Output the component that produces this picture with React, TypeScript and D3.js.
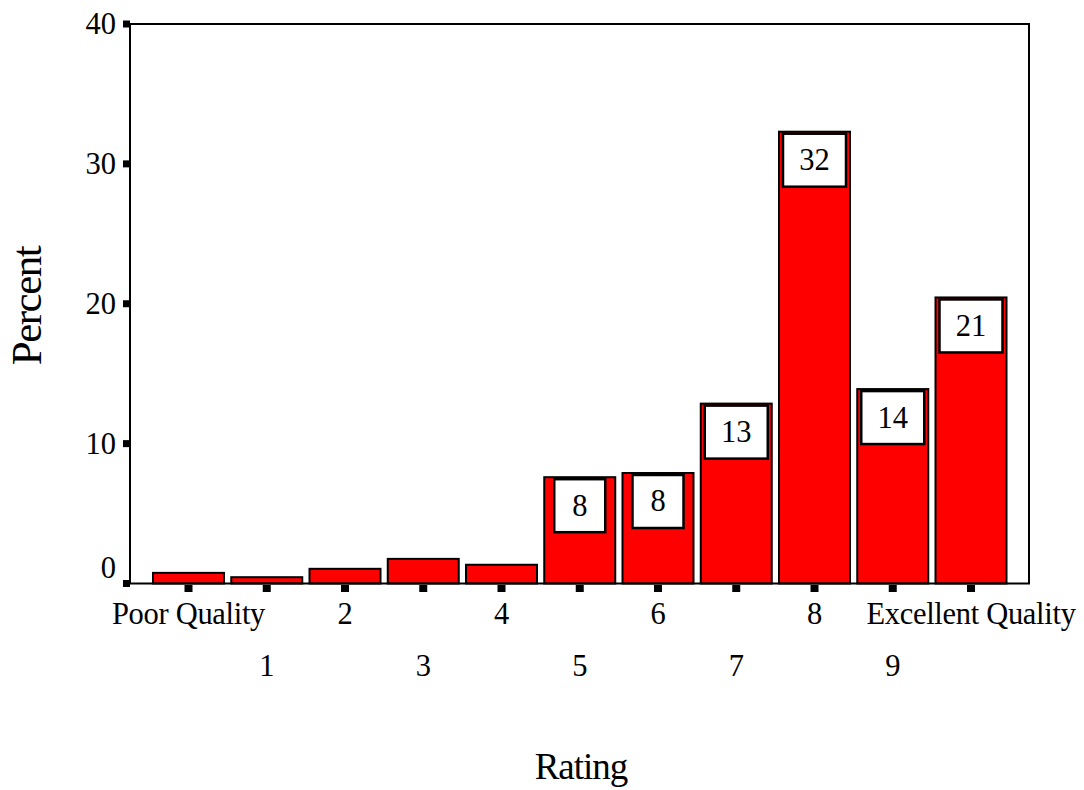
import React from "react";
import * as d3 from "d3";

const categories = ["Poor Quality", "1", "2", "3", "4", "5", "6", "7", "8", "9", "Excellent Quality"];
const percents = [0.76, 0.45, 1.05, 1.76, 1.34, 7.6, 7.9, 12.86, 32.3, 13.9, 20.45];
const valueLabels = ["", "", "", "", "", "8", "8", "13", "32", "14", "21"];
const yTicks = [0, 10, 20, 30, 40];

const W = 1084;
const H = 790;
const FONT = "'Liberation Serif', 'Times New Roman', serif";

export default function App() {
  const left = 130, right = 1029, top = 24, bottom = 583.5;
  const x = d3.scalePoint<string>().domain(categories).range([188.5, 971]);
  const y = d3.scaleLinear().domain([0, 40]).range([bottom, top]);
  const bw = 71;

  return (
    <svg width={W} height={H} style={{ position: "absolute", left: 0, top: 0, background: "#fff" }}>
      {/* bars */}
      {categories.map((c, i) => {
        const cx = x(c)!;
        const yt = y(percents[i]);
        return (
          <rect key={"b" + i} x={cx - bw / 2} y={yt} width={bw} height={bottom - yt}
            fill="#ff0000" stroke="#000" strokeWidth={2} />
        );
      })}
      {/* value label boxes */}
      {categories.map((c, i) => {
        const lab = valueLabels[i];
        if (!lab) return null;
        const cx = x(c)!;
        const yt = y(percents[i]);
        const bwid = lab.length > 1 ? 63 : 51;
        const bh = 53;
        return (
          <g key={"l" + i}>
            <rect x={cx - bwid / 2} y={yt + 2} width={bwid} height={bh} fill="#fff" stroke="#000" strokeWidth={2.5} />
            <text x={cx} y={yt + 2 + bh / 2 + 10} textAnchor="middle" fontFamily={FONT} fontSize={30.5} fill="#000">{lab}</text>
          </g>
        );
      })}
      {/* frame */}
      <rect x={left} y={top} width={right - left} height={bottom - top} fill="none" stroke="#000" strokeWidth={2} />
      {/* y ticks */}
      {yTicks.map((t) => (
        <g key={"yt" + t}>
          <rect x={left - 7} y={y(t) - 3.5} width={7} height={7} fill="#000" />
          <text x={116} y={t === 0 ? y(t) - 6 : y(t) + 10} textAnchor="end" fontFamily={FONT} fontSize={30.5} fill="#000">{t}</text>
        </g>
      ))}
      {/* x ticks */}
      {categories.map((c, i) => (
        <g key={"xt" + i}>
          <rect x={x(c)! - 4} y={bottom + 1.5} width={8} height={7} fill="#000" />
          <text x={x(c)!} y={i % 2 === 0 ? 624 : 676} textAnchor="middle" fontFamily={FONT} fontSize={30.5} letterSpacing={-0.3} fill="#000">{c}</text>
        </g>
      ))}
      {/* axis titles */}
      <text x={581} y={779} textAnchor="middle" fontFamily={FONT} fontSize={37} letterSpacing={-1} fill="#000">Rating</text>
      <text transform="translate(41,306) rotate(-90)" textAnchor="middle" fontFamily={FONT} fontSize={43} letterSpacing={-1.5} fill="#000">Percent</text>
    </svg>
  );
}
